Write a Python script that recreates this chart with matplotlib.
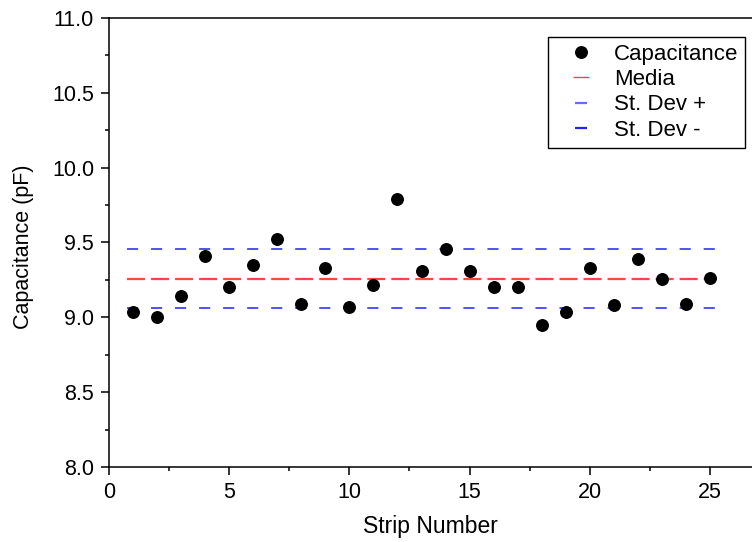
import matplotlib
matplotlib.use("Agg")
import matplotlib.pyplot as plt
from matplotlib.ticker import MultipleLocator, FormatStrFormatter
from matplotlib.lines import Line2D

plt.rcParams['font.family'] = ['Liberation Sans', 'DejaVu Sans']
plt.rcParams['lines.scale_dashes'] = False

# Measured capacitance per strip
strips = list(range(1, 26))
capacitance = [9.037, 9.002, 9.140, 9.407, 9.205, 9.347, 9.523, 9.089, 9.329, 9.067,
               9.214, 9.788, 9.307, 9.456, 9.311, 9.205, 9.200, 8.946, 9.037, 9.327,
               9.084, 9.392, 9.256, 9.087, 9.265]

# Reference levels
media = 9.258
st_dev_plus = 9.454
st_dev_minus = 9.062

fig = plt.figure(figsize=(7.52, 5.42), dpi=100)
ax = fig.add_axes([0.145, 0.1384, 0.855, 0.8284])

red = '#ff4444'
blue = '#2020ff'
blue_light = '#6a6aff'

line_lo = strips[0] - 0.27
line_hi = strips[-1] + 0.3
ax.hlines(st_dev_plus, line_lo, line_hi, colors=blue, linewidth=1.1,
          linestyles=(0, (8, 9.3)), zorder=2)
ax.hlines(st_dev_minus, line_lo, line_hi, colors=blue, linewidth=1.1,
          linestyles=(0, (8, 9.3)), zorder=2)
ax.hlines(media, line_lo, line_hi, colors=red, linewidth=1.6,
          linestyles=(0, (13, 4.3)), zorder=2)
ax.plot(strips, capacitance, 'o', color='black', markersize=8.3, zorder=3)

ax.set_xlim(0, 26.75)
ax.set_ylim(8.0, 11.0)
ax.xaxis.set_major_locator(MultipleLocator(5))
ax.xaxis.set_minor_locator(MultipleLocator(2.5))
ax.yaxis.set_major_locator(MultipleLocator(0.5))
ax.yaxis.set_minor_locator(MultipleLocator(0.25))
ax.yaxis.set_major_formatter(FormatStrFormatter('%.1f'))

for s in ax.spines.values():
    s.set_linewidth(1.1)
ax.spines['right'].set_visible(False)
ax.tick_params(which='both', direction='out', width=1.1, labelsize=15.5,
               top=False, right=False)
ax.tick_params(which='major', length=5.8, pad=5)
ax.tick_params(which='minor', length=3)

ax.set_xlabel('Strip Number', fontsize=16.5, labelpad=9)
ax.set_ylabel('Capacitance (pF)', fontsize=15.5)
ax.yaxis.set_label_coords(-0.117, 0.49)

handles = [
    Line2D([], [], marker='o', color='black', linestyle='none', markersize=8.3),
    Line2D([], [], marker='_', color=red, linestyle='none', markersize=11,
           markeredgewidth=1.0),
    Line2D([], [], marker='_', color=blue_light, linestyle='none', markersize=8,
           markeredgewidth=1.6),
    Line2D([], [], marker='_', color=blue, linestyle='none', markersize=8,
           markeredgewidth=1.6),
]
labels = ['Capacitance', 'Media', 'St. Dev +', 'St. Dev -']
leg = ax.legend(handles, labels, loc='upper right', bbox_to_anchor=(0.989, 0.958),
                fontsize=16, frameon=True, fancybox=False, edgecolor='black',
                framealpha=1, handlelength=2.37, handletextpad=0.3, labelspacing=0.2,
                borderpad=0.3, borderaxespad=0.0, numpoints=1)
leg.get_frame().set_linewidth(1.0)

fig.savefig('out.png', dpi=100)
